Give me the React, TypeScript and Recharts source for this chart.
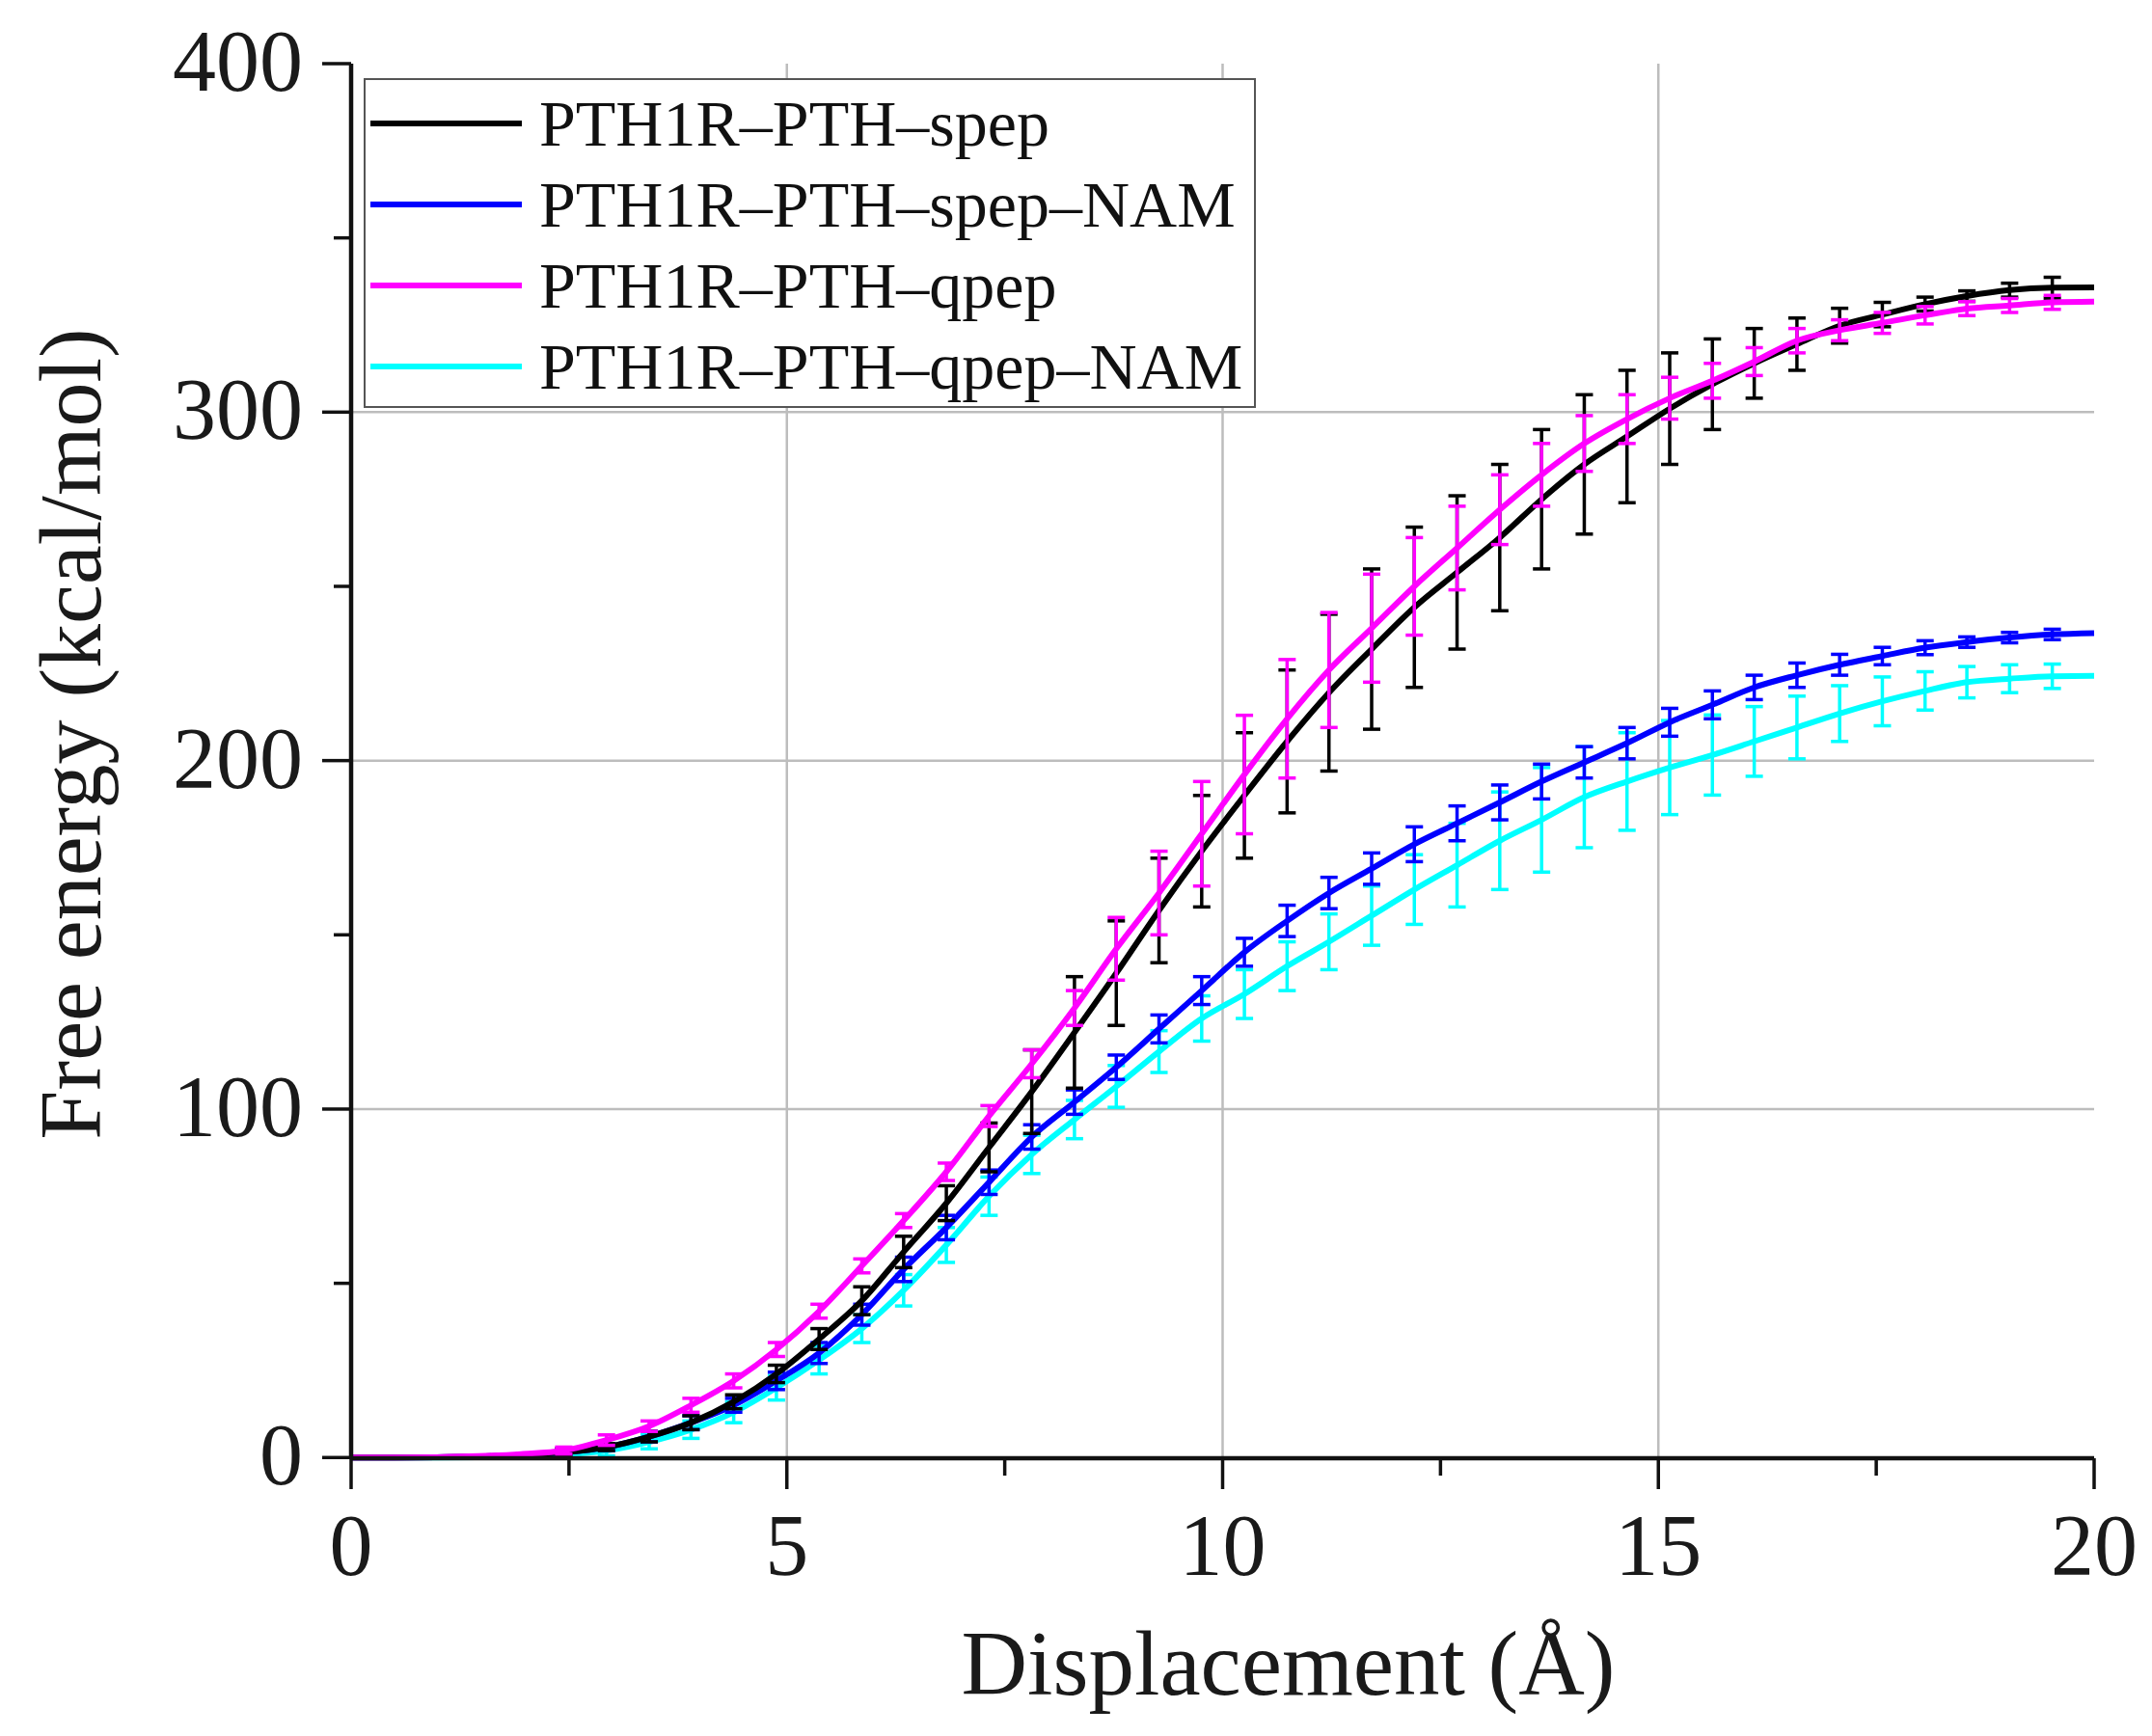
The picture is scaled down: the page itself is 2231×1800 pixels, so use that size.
import React from 'react';
import { LineChart, Line, XAxis, YAxis, CartesianGrid, ErrorBar, Legend } from 'recharts';

const FONT = '"Liberation Serif", "Times New Roman", serif';

// displacement (Å)
const DISPLACEMENT = [
  0, 0.49, 0.98, 1.46, 1.95, 2.44, 2.93, 3.42, 3.9, 4.39, 4.88, 5.37, 5.86, 6.34,
  6.83, 7.32, 7.81, 8.3, 8.78, 9.27, 9.76, 10.25, 10.74, 11.22, 11.71, 12.2, 12.69,
  13.18, 13.66, 14.15, 14.64, 15.13, 15.62, 16.1, 16.59, 17.08, 17.57, 18.06, 18.54,
  19.03, 19.52, 20,
];

// free energy (kcal/mol)
const SPEP = [
  0, 0, 0.1, 0.3, 0.7, 1.5, 3, 6, 10, 16, 24, 34, 45, 59, 73, 89, 105, 122, 139, 157,
  174, 190, 205.5, 219.5, 232, 244, 254, 264, 275, 285, 293, 301, 308, 314, 319.5, 324.8,
  328, 331, 333.3, 335, 335.7, 335.8,
];
const SPEP_ERR = [
  null, null, null, null, null, 1, 1, 1.5, 2, 2, 2.5, 3, 4, 4.5, 5, 7, 12, 16, 15, 15,
  16, 18, 20.5, 22.5, 23, 23, 22, 21, 20, 20, 19, 16, 13, 10, 7.5, 5, 3.5, 2, 1.5, 2, 3,
  null,
];

const SPEP_NAM = [
  0, 0, 0.1, 0.3, 0.7, 1.5, 3, 6, 10, 15, 22, 30, 41, 54, 66, 79, 92, 102, 112, 123,
  134, 145, 154, 162, 169, 176, 182, 188, 194, 199.5, 205, 211, 216, 221, 224.5, 227.5,
  230, 232.4, 234, 235.3, 236.2, 236.6,
];
const SPEP_NAM_ERR = [
  null, null, null, null, null, 1, 1, 1.5, 2, 2, 2.5, 3, 3, 3.5, 3.5, 3.5, 3.5, 3.5, 3.5,
  4, 4, 4, 4.5, 4.5, 4.5, 5, 5, 5, 5, 4.5, 4.5, 4, 4, 3.5, 3.5, 3, 2.5, 2, 1.5, 1.5, 1.5,
  null,
];

const QPEP = [
  0, 0, 0.1, 0.4, 1, 2, 5, 9, 15, 22, 31, 42, 55, 68, 82, 98, 113, 129, 146, 162, 179,
  196, 212, 226, 238, 250, 261, 272, 282, 291, 298, 304, 309, 314.5, 320.5, 323.5,
  325.6, 327.8, 329.7, 330.6, 331.5, 331.7,
];
const QPEP_ERR = [
  null, null, null, null, null, 1, 1.5, 1.5, 2, 2, 2, 2, 2, 2, 2.5, 3, 4, 5, 9, 12, 15,
  17, 17, 16.5, 15.5, 14, 12, 10, 9, 8, 7, 6, 5, 4, 3.5, 3, 3, 2.5, 2, 2, 2, null,
];

const QPEP_NAM = [
  0, 0, 0, 0.1, 0.3, 0.8, 2, 4.5, 8, 13, 20, 28, 37, 48, 61, 75, 87, 97, 106.5, 116.5,
  126, 133, 141, 148, 155.5, 163, 170, 177, 183, 189.5, 194, 198, 201.6, 205.5, 209.5,
  213.5, 217, 220, 222.5, 223.5, 224.2, 224.3,
];
const QPEP_NAM_ERR = [
  null, null, null, null, null, 1, 1.5, 2, 2.5, 3, 3.5, 4, 4, 4.5, 5, 5.5, 5.5, 5.5, 6,
  6, 6.5, 7, 7, 8, 8.5, 10, 12, 14, 15, 14.5, 14, 13.5, 11.5, 10, 9, 8, 7, 5.5, 4.5, 4,
  3.5, null,
];

const LEGEND_LABELS = [
  'PTH1R–PTH–spep',
  'PTH1R–PTH–spep–NAM',
  'PTH1R–PTH–qpep',
  'PTH1R–PTH–qpep–NAM',
];
const COLORS = ['#000000', '#0000ff', '#ff00ff', '#00ffff'];

const X_TICKS = [0, 2.5, 5, 7.5, 10, 12.5, 15, 17.5, 20];
const Y_TICKS = [0, 50, 100, 150, 200, 250, 300, 350, 400];

const data = DISPLACEMENT.map((x, i) => ({
  x,
  spep: SPEP[i],
  spepErr: SPEP_ERR[i],
  spepNam: SPEP_NAM[i],
  spepNamErr: SPEP_NAM_ERR[i],
  qpep: QPEP[i],
  qpepErr: QPEP_ERR[i],
  qpepNam: QPEP_NAM[i],
  qpepNamErr: QPEP_NAM_ERR[i],
}));

const XTick = (props: any) => {
  const { x, y, payload } = props;
  const major = payload.value % 5 === 0;
  return (
    <g>
      <line x1={x} x2={x} y1={y} y2={y + (major ? 32 : 18)} stroke="#111" strokeWidth={3.5} />
      {major && (
        <text x={x} y={y + 121} textAnchor="middle" fontSize={90} fontFamily={FONT} fill="#1a1a1a">
          {payload.value}
        </text>
      )}
    </g>
  );
};

const YTick = (props: any) => {
  const { x, y, payload } = props;
  const major = payload.value % 100 === 0;
  return (
    <g>
      <line x1={x} x2={x - (major ? 30 : 18)} y1={y} y2={y} stroke="#111" strokeWidth={3.5} />
      {major && (
        <text x={x - 50} y={y + 28} textAnchor="end" fontSize={90} fontFamily={FONT} fill="#1a1a1a">
          {payload.value}
        </text>
      )}
    </g>
  );
};

const renderLegend = () => (
  <div
    style={{
      width: 925,
      height: 342,
      boxSizing: 'border-box',
      border: '2.5px solid #555',
      background: '#fff',
      paddingTop: 3,
    }}
  >
    {LEGEND_LABELS.map((label, i) => (
      <div key={label} style={{ display: 'flex', alignItems: 'center', height: 84 }}>
        <div style={{ width: 157, height: 6, background: COLORS[i], marginLeft: 5 }} />
        <span
          style={{
            marginLeft: 18,
            fontSize: 68,
            fontFamily: FONT,
            color: '#111',
            lineHeight: 1,
            whiteSpace: 'nowrap',
          }}
        >
          {label}
        </span>
      </div>
    ))}
  </div>
);

const SERIES = [
  { key: 'qpepNam', err: 'qpepNamErr', color: COLORS[3], name: LEGEND_LABELS[3] },
  { key: 'spepNam', err: 'spepNamErr', color: COLORS[1], name: LEGEND_LABELS[1] },
  { key: 'spep', err: 'spepErr', color: COLORS[0], name: LEGEND_LABELS[0] },
  { key: 'qpep', err: 'qpepErr', color: COLORS[2], name: LEGEND_LABELS[2] },
];

export default function App() {
  return (
    <LineChart
      width={2215}
      height={1784}
      data={data}
      margin={{ top: 58, right: 52, left: 0, bottom: 0 }}
      style={{ background: '#fff' }}
    >
      <CartesianGrid
        horizontalValues={[100, 200, 300]}
        verticalValues={[5, 10, 15]}
        stroke="#bdbdbd"
        strokeWidth={2.5}
      />
      <XAxis
        type="number"
        dataKey="x"
        domain={[0, 20]}
        ticks={X_TICKS}
        interval={0}
        tickSize={0}
        tickMargin={0}
        tickLine={false}
        tick={<XTick />}
        axisLine={{ stroke: '#111', strokeWidth: 4.5 }}
        height={280}
        label={{
          value: 'Displacement (Å)',
          position: 'insideTop',
          offset: 178,
          dx: 68,
          style: { fontSize: 95, fontFamily: FONT, fill: '#1a1a1a' },
        }}
      />
      <XAxis
        xAxisId="top"
        orientation="top"
        type="number"
        dataKey="x"
        domain={[0, 20]}
        tick={false}
        tickLine={false}
        axisLine={{ stroke: '#111', strokeWidth: 4.5 }}
        height={0}
      />
      <YAxis
        type="number"
        domain={[0, 400]}
        ticks={Y_TICKS}
        interval={0}
        tickSize={0}
        tickMargin={0}
        tickLine={false}
        tick={<YTick />}
        axisLine={{ stroke: '#111', strokeWidth: 4.5 }}
        width={356}
        label={{
          value: 'Free energy (kcal/mol)',
          angle: -90,
          position: 'center',
          dx: -115,
          dy: -28,
          style: { fontSize: 92, fontFamily: FONT, fill: '#1a1a1a', textAnchor: 'middle' },
        }}
      />
      <YAxis
        yAxisId="right"
        orientation="right"
        type="number"
        domain={[0, 400]}
        tick={false}
        tickLine={false}
        axisLine={{ stroke: '#111', strokeWidth: 4.5 }}
        width={0}
      />
      <Legend
        layout="vertical"
        align="center"
        verticalAlign="middle"
        content={renderLegend}
        wrapperStyle={{ position: 'absolute', left: 369, top: 73, width: 925, height: 342 }}
      />
      {SERIES.map((s) => (
        <Line
          key={s.key}
          type="monotone"
          dataKey={s.key}
          name={s.name}
          stroke={s.color}
          strokeWidth={6}
          dot={false}
          activeDot={false}
          isAnimationActive={false}
        >
          <ErrorBar dataKey={s.err} direction="y" width={9} strokeWidth={3.5} stroke={s.color} />
        </Line>
      ))}
    </LineChart>
  );
}
